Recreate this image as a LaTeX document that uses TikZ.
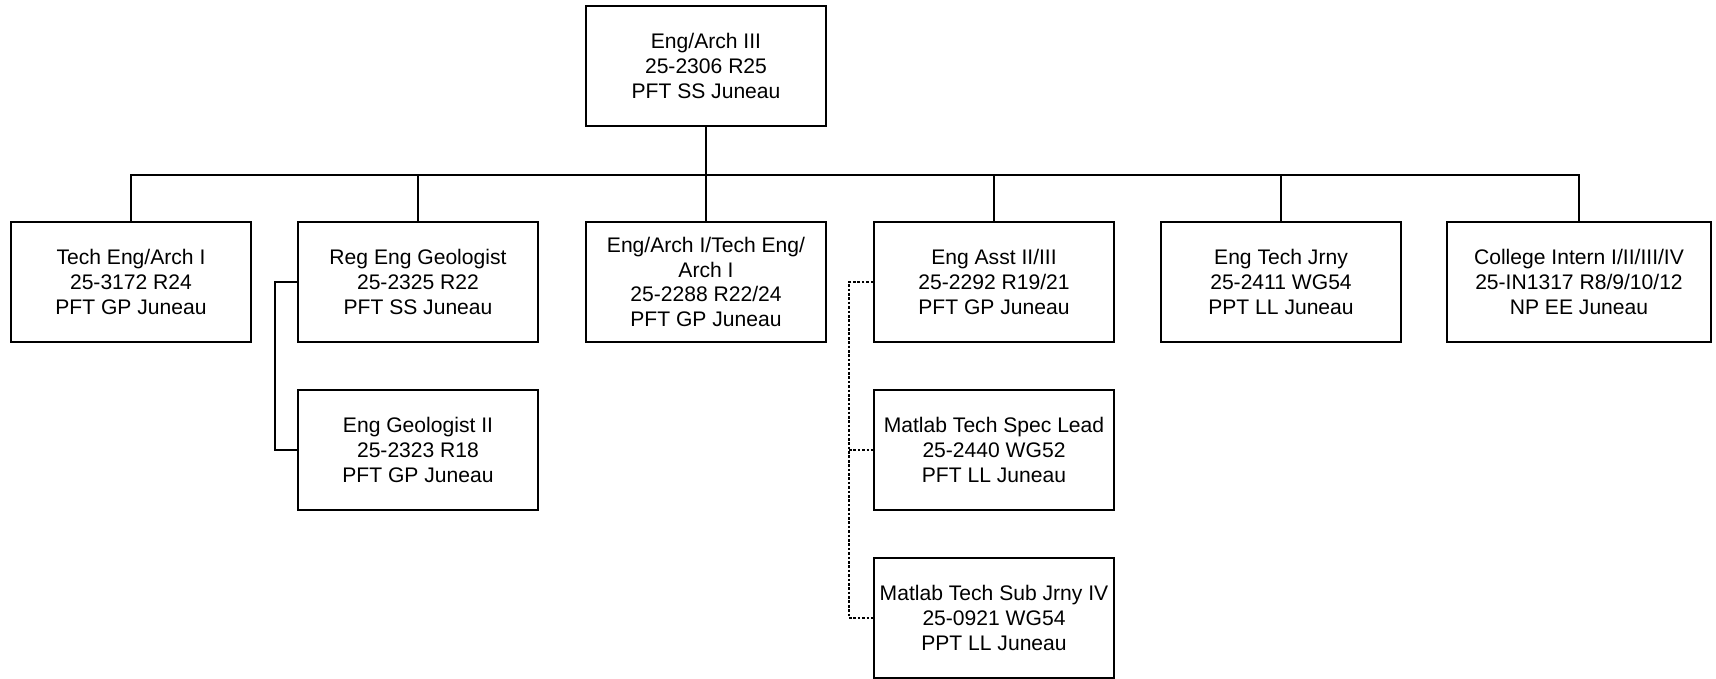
\documentclass[tikz,border=0pt]{standalone}
\usepackage{fontspec}
\setmainfont{Liberation Sans}
\begin{document}
\begin{tikzpicture}[
  x=1cm,y=1cm,
  box/.style={draw=black, line width=0.9pt, fill=white, minimum width=4.8cm, minimum height=2.4cm,
    align=center, inner sep=1pt, font=\fontsize{12}{14}\selectfont},
  wide/.style={box, minimum width=5.28cm},
  link/.style={line width=0.9pt, draw=black},
  dotlink/.style={line width=0.9pt, draw=black, dash pattern=on 1.5pt off 1pt}
]
\useasboundingbox (0,0) rectangle (34.32,-13.56);
\node[box] (top) at (14.12,-1.32) {Eng/Arch III\\25-2306 R25\\PFT SS Juneau};
\node[box] (a) at (2.62,-5.64) {Tech Eng/Arch I\\25-3172 R24\\PFT GP Juneau};
\node[box] (b) at (8.36,-5.64) {Reg Eng Geologist\\25-2325 R22\\PFT SS Juneau};
\node[box] (c) at (14.12,-5.64) {Eng/Arch I/Tech Eng/\\Arch I\\25-2288 R22/24\\PFT GP Juneau};
\node[box] (d) at (19.88,-5.64) {Eng Asst II/III\\25-2292 R19/21\\PFT GP Juneau};
\node[box] (e) at (25.62,-5.64) {Eng Tech Jrny\\25-2411 WG54\\PPT LL Juneau};
\node[wide] (f) at (31.58,-5.64) {College Intern I/II/III/IV\\25-IN1317 R8/9/10/12\\NP EE Juneau};
\node[box] (b2) at (8.36,-9.0) {Eng Geologist II\\25-2323 R18\\PFT GP Juneau};
\node[box] (d2) at (19.88,-9.0) {Matlab Tech Spec Lead\\25-2440 WG52\\PFT LL Juneau};
\node[box] (d3) at (19.88,-12.36) {Matlab Tech Sub Jrny IV\\25-0921 WG54\\PPT LL Juneau};
\coordinate (bar) at (14.12,-3.5);
\coordinate (gx) at (5.5,0);
\coordinate (dx) at (16.98,0);
\draw[link] (top.south) -- (bar);
\foreach \n in {a,b,c,d,e,f}{
  \draw[link] (bar) -| (\n.north);
}
\draw[link] (b.west) -- (gx |- b.west) -- (gx |- b2.west) -- (b2.west);
\draw[dotlink] (d.west) -- (dx |- d.west) -- (dx |- d3.west) -- (d3.west);
\draw[dotlink] (dx |- d2.west) -- (d2.west);
\end{tikzpicture}
\end{document}
